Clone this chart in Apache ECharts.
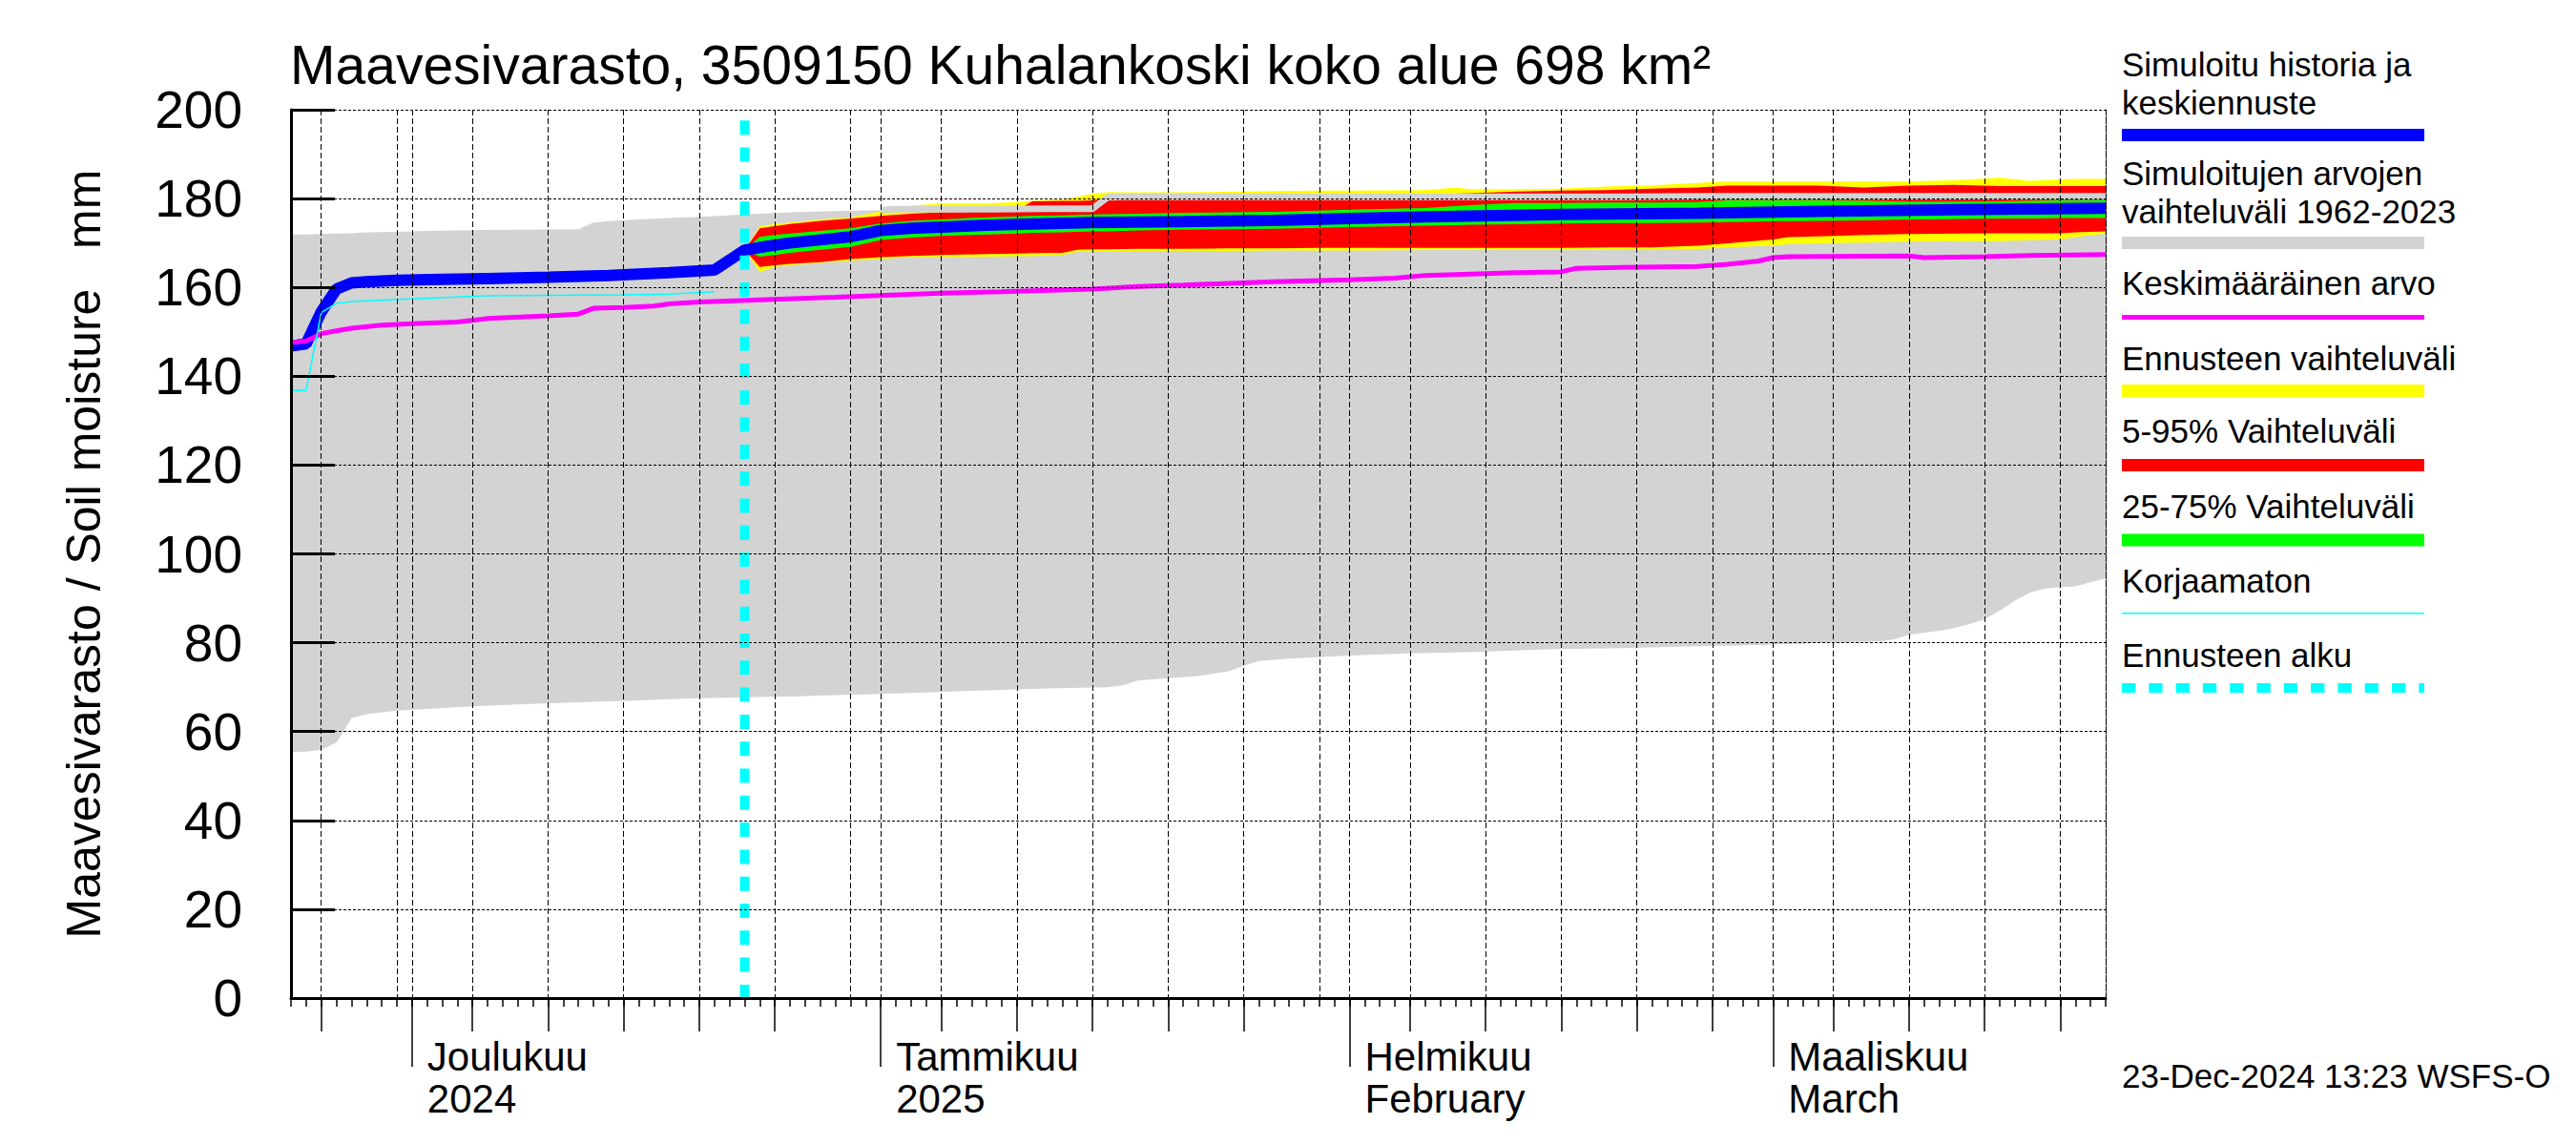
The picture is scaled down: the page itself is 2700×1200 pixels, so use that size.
<!DOCTYPE html>
<html><head><meta charset="utf-8">
<script src="https://cdn.jsdelivr.net/npm/echarts@6/dist/echarts.min.js"></script>
<style>html,body{margin:0;padding:0;background:#fff}#c{width:2700px;height:1200px}</style>
</head><body><div id="c"></div>
<script>
// ---------------- DATA ----------------
const titleText = 'Maavesivarasto, 3509150 Kuhalankoski koko alue 698 km\u00b2';
const yAxisTitle = 'Maavesivarasto / Soil moisture\u00a0\u00a0\u00a0mm';
const stampText = '23-Dec-2024 13:23 WSFS-O';
const axisStart = '2024-11-23';
const axisEnd = '2025-03-23';
const yTicks = [0, 200, 20]; // min, max, step

const monthDates = ['2024-12-01', '2025-01-01', '2025-02-01', '2025-03-01'];
const monthNames = ['Joulukuu', 'Tammikuu', 'Helmikuu', 'Maaliskuu'];
const monthSub = ['2024', '2025', 'February', 'March'];
const gridDates = ['2024-11-25','2024-11-30','2024-12-01','2024-12-05','2024-12-10','2024-12-15','2024-12-20','2024-12-25','2024-12-30',
  '2025-01-01','2025-01-05','2025-01-10','2025-01-15','2025-01-20','2025-01-25','2025-01-30','2025-02-01','2025-02-05','2025-02-10',
  '2025-02-15','2025-02-20','2025-02-25','2025-03-01','2025-03-05','2025-03-10','2025-03-15','2025-03-20','2025-03-23'];
const midTickDates = ['2024-11-25','2024-12-05','2024-12-10','2024-12-15','2024-12-20','2024-12-25','2025-01-05','2025-01-10',
  '2025-01-15','2025-01-20','2025-01-25','2025-02-05','2025-02-10','2025-02-15','2025-02-20','2025-02-25','2025-03-05',
  '2025-03-10','2025-03-15','2025-03-20'];

// Historical range 1962-2023 (grey band)
const histDates = ['2024-11-23','2024-11-24','2024-11-25','2024-11-26','2024-11-27','2024-11-28','2024-11-30','2024-12-02','2024-12-05','2024-12-08',
  '2024-12-12','2024-12-13','2024-12-14','2024-12-16','2024-12-18','2024-12-20','2024-12-23','2024-12-26','2024-12-29','2025-01-01',
  '2025-01-02','2025-01-04','2025-01-08','2025-01-12','2025-01-15','2025-01-16','2025-01-17','2025-01-18','2025-01-20','2025-01-22',
  '2025-01-24','2025-01-25','2025-01-26','2025-01-28','2025-02-01','2025-02-05','2025-02-09','2025-02-14','2025-02-19','2025-02-24',
  '2025-02-28','2025-03-04','2025-03-08','2025-03-09','2025-03-10','2025-03-12','2025-03-13','2025-03-14','2025-03-15','2025-03-16',
  '2025-03-17','2025-03-18','2025-03-19','2025-03-20','2025-03-21','2025-03-22','2025-03-23'];
const histMin = [55.4,55.5,55.9,57.5,63.0,63.9,64.7,65.1,65.7,66.1,
  66.6,66.7,66.8,67.0,67.3,67.5,67.7,67.9,68.2,68.5,
  68.6,68.8,69.3,69.7,69.9,70.0,70.4,71.5,72.0,72.5,
  73.6,74.8,75.9,76.4,77.1,77.6,77.9,78.5,78.8,79.2,
  79.5,79.9,80.3,80.8,81.8,82.7,83.3,84.2,85.3,87.2,
  89.5,91.3,92.2,92.5,92.7,93.6,94.5];
const histMax = [171.9,171.9,172.0,172.1,172.2,172.4,172.5,172.7,172.9,173.0,
  173.1,174.6,174.9,175.3,175.6,175.9,176.4,176.9,177.2,177.4,
  177.6,177.6,177.6,177.7,177.7,180.3,180.4,180.4,180.4,180.4,
  180.4,180.4,180.4,180.4,180.4,180.4,180.4,180.4,180.4,180.5,
  180.5,180.5,180.5,180.5,180.5,180.5,180.5,180.5,180.5,180.5,
  180.5,180.5,180.5,180.5,180.5,180.5,180.5];

// Simulated history and median forecast (blue)
const simDates = ['2024-11-23','2024-11-24','2024-11-25','2024-11-26','2024-11-27','2024-11-28','2024-11-30','2024-12-03','2024-12-06','2024-12-10',
  '2024-12-14','2024-12-18','2024-12-21','2024-12-23','2024-12-24','2024-12-26','2024-12-28','2024-12-30','2025-01-01','2025-01-03',
  '2025-01-05','2025-01-08','2025-01-11','2025-01-15','2025-01-21','2025-01-27','2025-02-01','2025-02-06','2025-02-15','2025-02-24',
  '2025-03-04','2025-03-13','2025-03-23'];
const simValues = [146.8,147.3,154.5,159.6,161.0,161.3,161.6,161.8,162.0,162.3,
  162.7,163.3,163.9,168.4,169.0,170.0,170.7,171.4,172.8,173.3,
  173.6,174.0,174.3,174.6,174.8,175.1,175.5,175.9,176.4,176.7,
  177.1,177.5,177.8];

// Uncorrected (cyan thin)
const rawDates = ['2024-11-23','2024-11-24','2024-11-25','2024-11-26','2024-11-27','2024-12-01','2024-12-06','2024-12-15','2024-12-18','2024-12-21'];
const rawValues = [136.8,136.8,154.3,156.4,156.8,157.4,158.1,158.3,158.5,159.0];

// Long-term mean (magenta)
const meanDates = ['2024-11-23','2024-11-24','2024-11-25','2024-11-26','2024-11-27','2024-11-29','2024-12-01','2024-12-04','2024-12-06','2024-12-10',
  '2024-12-12','2024-12-13','2024-12-15','2024-12-17','2024-12-18','2024-12-20','2024-12-24','2024-12-29','2025-01-05','2025-01-09',
  '2025-01-15','2025-01-18','2025-01-21','2025-01-24','2025-01-27','2025-02-01','2025-02-04','2025-02-06','2025-02-09','2025-02-12',
  '2025-02-15','2025-02-16','2025-02-19','2025-02-24','2025-02-26','2025-02-28','2025-03-01','2025-03-02','2025-03-10','2025-03-11',
  '2025-03-15','2025-03-18','2025-03-23'];
const meanValues = [147.6,147.9,149.6,150.2,150.8,151.5,151.8,152.2,153.0,153.6,
  154.0,155.3,155.5,155.8,156.3,156.7,157.2,157.8,158.7,159.0,
  159.6,160.2,160.5,160.9,161.3,161.7,162.1,162.7,163.0,163.3,
  163.5,164.3,164.5,164.7,165.2,165.9,166.7,166.9,167.1,166.7,
  166.9,167.2,167.4];

// Forecast ensemble statistics
const forecastStart = '2024-12-23';
const fcDates = ['2024-12-23','2024-12-24','2024-12-25','2024-12-26','2024-12-28','2024-12-30','2025-01-01','2025-01-03','2025-01-05','2025-01-08',
  '2025-01-10','2025-01-11','2025-01-13','2025-01-14','2025-01-15','2025-01-16','2025-01-18','2025-01-21','2025-01-24','2025-01-27',
  '2025-01-30','2025-02-01','2025-02-06','2025-02-08','2025-02-09','2025-02-12','2025-02-15','2025-02-18','2025-02-21','2025-02-24',
  '2025-02-26','2025-02-28','2025-03-01','2025-03-02','2025-03-04','2025-03-07','2025-03-10','2025-03-13','2025-03-16','2025-03-18',
  '2025-03-20','2025-03-21','2025-03-23'];
const fcMax = [168.4,173.8,174.3,174.6,175.3,175.8,177.1,178.4,178.9,178.9,
  179.2,179.5,179.8,180.4,181.1,181.4,181.4,181.4,181.5,181.7,
  181.8,181.8,181.9,182.5,182.1,182.1,182.2,182.7,183.0,183.5,
  183.9,183.9,183.9,183.9,183.9,183.9,183.9,184.1,184.7,184.0,
  184.3,184.4,184.4];
const fcP95 = [168.4,173.3,173.8,174.3,175.0,175.5,176.1,176.6,176.9,177.1,
  177.3,179.4,179.5,179.5,179.6,180.3,180.5,180.6,180.7,180.8,
  180.9,180.9,181.0,181.1,181.2,181.6,181.8,181.9,182.2,182.5,
  182.9,182.9,182.9,182.9,182.9,182.5,182.9,183.1,182.8,182.8,
  182.8,182.8,182.8];
const fcP75 = [168.4,171.4,171.8,172.1,172.7,173.3,174.4,175.0,175.3,175.8,
  176.0,176.1,176.2,176.3,176.4,176.5,176.6,176.8,176.9,177.0,
  177.3,177.5,177.9,178.3,178.5,179.0,179.0,179.1,179.1,179.2,
  179.6,179.6,179.6,179.6,179.6,179.5,179.3,179.3,179.4,179.5,
  179.6,179.6,179.7];
const fcP25 = [168.4,166.9,167.3,167.8,168.5,169.1,170.7,171.2,171.6,171.9,
  172.1,172.3,172.4,172.5,172.6,172.6,172.8,173.0,173.1,173.2,
  173.4,173.6,173.9,174.0,174.1,174.2,174.4,174.5,174.5,174.6,
  174.7,174.8,174.9,174.9,175.0,175.1,175.3,175.4,175.5,175.5,
  175.6,175.6,175.6];
const fcP5 = [168.4,164.6,165.0,165.3,165.7,166.4,166.8,167.1,167.3,167.5,
  167.6,167.7,167.8,168.5,168.6,168.6,168.7,168.7,168.8,168.8,
  168.9,168.9,168.9,168.9,168.9,168.9,168.9,169.0,169.0,169.4,
  169.9,170.5,170.8,171.3,171.5,171.8,172.0,172.1,172.2,172.2,
  172.2,172.4,172.6];
const fcMin = [168.4,163.5,164.6,165.0,165.5,166.0,166.4,166.8,166.8,166.9,
  167.0,167.0,167.3,168.0,168.1,168.1,168.2,168.2,168.2,168.3,
  168.3,168.3,168.4,168.4,168.4,168.5,168.5,168.5,168.6,168.6,
  169.0,169.3,169.4,169.7,169.9,170.1,170.3,170.4,170.4,170.6,
  170.8,171.3,172.1];

const legendLabels = [
  ['Simuloitu historia ja', 'keskiennuste'],
  ['Simuloitujen arvojen', 'vaihteluväli 1962-2023'],
  ['Keskimääräinen arvo'],
  ['Ennusteen vaihteluväli'],
  ['5-95% Vaihteluväli'],
  ['25-75% Vaihteluväli'],
  ['Korjaamaton'],
  ['Ennusteen alku']
];

// ---------------- BUILD ----------------
const FONT = '"Liberation Sans", Arial, Helvetica, sans-serif';
const C = {blue:'#0000ff', gray:'#d3d3d3', magenta:'#ff00ff', yellow:'#ffff00', red:'#ff0000', green:'#00ff00', cyan:'#00ffff'};
const T0 = Date.parse(axisStart + 'T00:00:00Z');
const day = s => Math.round((Date.parse(s + 'T00:00:00Z') - T0) / 864e5);
const pairs = (ds, vs) => ds.map((d, i) => [day(d), vs[i]]);
const X_MAX = day(axisEnd);
const monthDays = monthDates.map(day);

// A filled band between two value arrays, drawn as one polygon through the axis scales.
function band(name, ds, lo, hi, color, z) {
  const rows = ds.map((d, i) => [day(d), lo[i], hi[i]]);
  return {
    type:'custom', name: name, z: z, silent:true, clip:true, data: rows,
    encode:{x:0, y:[1, 2]},
    renderItem: function (params, api) {
      if (params.dataIndex !== 0) return null;
      const top = rows.map(r => api.coord([r[0], r[2]]));
      const bot = rows.map(r => api.coord([r[0], r[1]])).reverse();
      return {type:'polygon', shape:{points: top.concat(bot)}, style:{fill: color, stroke:null}};
    }
  };
}

const xBase = {type:'value', min:0, max:X_MAX, position:'bottom', z:20,
  axisLabel:{show:false}, splitLine:{show:false}, axisLine:{show:false}, axisTick:{show:false}};
const tickStyle = {color:'#000', width:1.5};

const series = [
  band('Simuloitujen arvojen vaihteluväli 1962-2023', histDates, histMin, histMax, C.gray, 1),
  band('Ennusteen vaihteluväli', fcDates, fcMin, fcMax, C.yellow, 2),
  band('5-95% Vaihteluväli', fcDates, fcP5, fcP95, C.red, 3),
  {type:'line', name:'hist max', data: pairs(histDates, histMax).filter(p => p[0] >= day('2025-01-01')),
    symbol:'none', silent:true, lineStyle:{color:C.gray, width:7}, z:4},
  band('25-75% Vaihteluväli', fcDates, fcP25, fcP75, C.green, 5),
  {type:'line', name:'Simuloitu historia ja keskiennuste', data: pairs(simDates, simValues), symbol:'none', silent:true,
   lineStyle:{color:C.blue, width:12}, z:6},
  {type:'line', name:'Keskimääräinen arvo', data: pairs(meanDates, meanValues), symbol:'none', silent:true,
   lineStyle:{color:C.magenta, width:5}, z:7},
  {type:'line', name:'Korjaamaton', data: pairs(rawDates, rawValues), symbol:'none', silent:true,
   lineStyle:{color:C.cyan, width:1.5}, z:8},
  {type:'line', name:'Ennusteen alku', data: [[day(forecastStart), yTicks[1]], [day(forecastStart), yTicks[0]]],
   symbol:'none', silent:true, lineStyle:{color:C.cyan, width:10, type:[15, 13.3], dashOffset:16.6}, z:9}
];

// legend graphic
const LX = 2224, LW = 317, LFS = 35, LLH = 40;
const legendLayout = [
  {base:[83.4, 116.7], sym:{kind:'rect', y:135, h:13, color:C.blue}},
  {base:[197.1, 230.8], sym:{kind:'rect', y:248, h:13, color:C.gray}},
  {base:[309.2], sym:{kind:'rect', y:330, h:5, color:C.magenta}},
  {base:[387.3], sym:{kind:'rect', y:403, h:13, color:C.yellow}},
  {base:[464.2], sym:{kind:'rect', y:481, h:13, color:C.red}},
  {base:[542.7], sym:{kind:'rect', y:559.5, h:13, color:C.green}},
  {base:[620.7], sym:{kind:'line', y:642.7, w:1.5, color:C.cyan}},
  {base:[698.3], sym:{kind:'dash', y:721, w:10, color:C.cyan}}
];
const graphic = [];
legendLabels.forEach((lines, i) => {
  const L = legendLayout[i];
  const mid = (L.base[0] + L.base[L.base.length - 1]) / 2;   // midpoint of the baselines
  graphic.push({type:'text', x:LX, y:mid - 0.35 * LFS, silent:true,
    style:{text:lines.join('\n'), fill:'#000', font: LFS + 'px ' + FONT, lineHeight:LLH,
      textAlign:'left', textVerticalAlign:'middle', verticalAlign:'middle'}});
  const s = L.sym;
  if (s.kind === 'rect') {
    graphic.push({type:'rect', silent:true, shape:{x:LX, y:s.y, width:LW, height:s.h}, style:{fill:s.color}});
  } else if (s.kind === 'line') {
    graphic.push({type:'line', silent:true, shape:{x1:LX, y1:s.y, x2:LX+LW, y2:s.y}, style:{stroke:s.color, lineWidth:s.w}});
  } else {
    graphic.push({type:'line', silent:true, shape:{x1:LX, y1:s.y, x2:LX+LW, y2:s.y}, style:{stroke:s.color, lineWidth:s.w, lineDash:[14.3, 14]}});
  }
});
graphic.push({type:'text', x:LX, y:1140 - 0.35 * 35, silent:true,
  style:{text:stampText, fill:'#000', font:'35px ' + FONT, textAlign:'left', textVerticalAlign:'middle', verticalAlign:'middle'}});

const option = {
  animation:false,
  backgroundColor:'#ffffff',
  textStyle:{fontFamily:FONT},
  title:{text:titleText, left:304, top:39, padding:0,
    textStyle:{fontSize:57, fontWeight:'normal', color:'#000', fontFamily:FONT}},
  grid:{left:305, right:493, top:115, bottom:154, containLabel:false, outerBoundsMode:'none'},
  xAxis:[
    Object.assign({}, xBase, {interval:1,
      axisLine:{show:true, onZero:false, lineStyle:{color:'#000', width:3}},
      axisTick:{show:true, length:9, lineStyle:tickStyle}}),
    Object.assign({}, xBase, {
      axisTick:{show:false, customValues: gridDates.map(day)},
      splitLine:{show:true, lineStyle:{color:'#000', width:1, type:[6,3]}}}),
    Object.assign({}, xBase, {
      axisTick:{show:true, customValues: midTickDates.map(day), length:35, lineStyle:tickStyle}}),
    Object.assign({}, xBase, {
      axisTick:{show:true, customValues: monthDays, length:72, lineStyle:tickStyle},
      axisLabel:{show:true, customValues: monthDays, color:'#000', fontSize:42, lineHeight:44, fontFamily:FONT,
        align:'left', verticalAlign:'top', margin:39, padding:[0,0,0,16],
        formatter: v => { const i = monthDays.indexOf(Math.round(v)); return i < 0 ? '' : monthNames[i] + '\n' + monthSub[i]; }}})
  ],
  yAxis:[
    {type:'value', min:yTicks[0], max:yTicks[1], interval:yTicks[2], position:'left', z:20,
     axisLine:{show:true, onZero:false, lineStyle:{color:'#000', width:3}},
     axisTick:{show:true, inside:true, length:46, lineStyle:{color:'#000', width:3}},
     axisLabel:{color:'#000', fontSize:55, fontFamily:FONT, margin:51, padding:[0,0,14,0]},
     splitLine:{show:true, lineStyle:{color:'#000', width:1, type:[3,2]}},
     name:yAxisTitle, nameLocation:'middle', nameGap:192,
     nameTextStyle:{color:'#000', fontSize:50, fontFamily:FONT}},
    {type:'value', min:yTicks[0], max:yTicks[1], interval:yTicks[2], position:'right', z:20,
     axisLine:{show:true, onZero:false, lineStyle:{color:'#000', width:1, type:[6,3]}},
     axisTick:{show:false}, axisLabel:{show:false}, splitLine:{show:false}}
  ],
  series: series,
  graphic: graphic
};

const chart = echarts.init(document.getElementById('c'), null, {renderer:'svg', width:2700, height:1200});
chart.setOption(option);
</script></body></html>
